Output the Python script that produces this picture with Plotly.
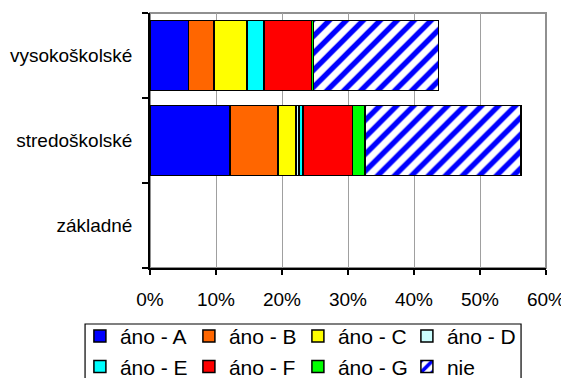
import plotly.graph_objects as go

categories = ["základné", "stredoškolské", "vysokoškolské"]
series_names = ["áno - A", "áno - B", "áno - C", "áno - D", "áno - E", "áno - F", "áno - G", "nie"]
ano_A = [None, 0.121, 0.058]
ano_B = [None, 0.073, 0.039]
ano_C = [None, 0.027, 0.050]
ano_D = [None, 0.005, 0.0]
ano_E = [None, 0.006, 0.026]
ano_F = [None, 0.075, 0.072]
ano_G = [None, 0.019, 0.003]
nie = [None, 0.236, 0.189]
x_ticks = [0, 0.1, 0.2, 0.3, 0.4, 0.5, 0.6]

values = [ano_A, ano_B, ano_C, ano_D, ano_E, ano_F, ano_G, nie]
colors = ["#0000FF", "#FF6600", "#FFFF00", "#CCFFFF", "#00FFFF", "#FF0000", "#00FF00", None]

FONT = "Liberation Sans, Arial, sans-serif"

fig = go.Figure()
for name, vals, col in zip(series_names, values, colors):
    if col is None:
        marker = dict(color="#FFFFFF",
                      pattern=dict(shape="/", fgcolor="#0000FF", bgcolor="#FFFFFF",
                                   fgopacity=1, size=12, solidity=0.45, fillmode="replace"),
                      line=dict(color="#000000", width=1.5))
    else:
        marker = dict(color=col, line=dict(color="#000000", width=1.5))
    fig.add_trace(go.Bar(y=categories, x=vals, name=name, orientation="h", marker=marker))

# the page body adds an 8px offset, so the figure is sized/positioned to compensate
fig.update_layout(
    width=561, height=370,
    barmode="stack", bargap=0.176,
    plot_bgcolor="#FFFFFF", paper_bgcolor="#FFFFFF",
    font=dict(family=FONT, size=19, color="#000000"),
    margin=dict(l=142, r=23, t=5, b=110, autoexpand=False),
    showlegend=True,
    legend=dict(orientation="h", traceorder="normal",
                x=-0.177, xanchor="left", y=-0.188, yanchor="top",
                borderwidth=0, bgcolor="rgba(0,0,0,0)",
                font=dict(family=FONT, size=21, color="#000000"),
                entrywidth=64, entrywidthmode="pixels",
                itemclick=False),
    shapes=[
        dict(type="rect", xref="paper", yref="paper", x0=0, x1=1, y0=0, y1=1,
             line=dict(color="#909090", width=2), layer="below"),
        dict(type="rect", xref="paper", yref="paper", x0=-0.164, x1=0.937, y0=-0.6, y1=-0.2196,
             line=dict(color="#000000", width=1.2), fillcolor="rgba(0,0,0,0)", layer="above"),
    ],
)
fig.update_xaxes(range=[0, 0.6], tickvals=x_ticks, tickformat=".0%",
                 showgrid=True, gridcolor="#A0A0A0", gridwidth=1,
                 showline=True, linecolor="#000000", linewidth=1.5,
                 ticks="outside", ticklen=5, tickcolor="#000000", tickwidth=1.5,
                 ticklabelstandoff=8, zeroline=False)
fig.update_yaxes(categoryorder="array", categoryarray=categories,
                 showgrid=False, showline=True, linecolor="#000000", linewidth=1.5,
                 ticks="outside", ticklen=6, tickcolor="#000000", tickwidth=1.5,
                 tickson="boundaries", ticklabelstandoff=12, zeroline=False)

fig.write_html("out.html")
